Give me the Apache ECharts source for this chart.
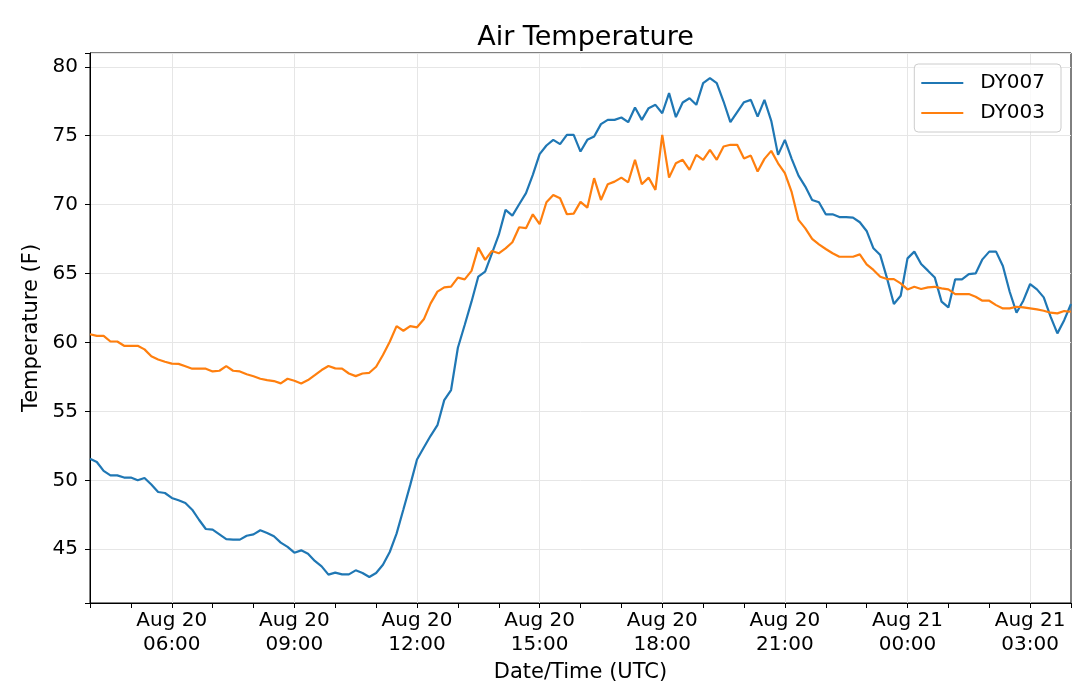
<!DOCTYPE html>
<html>
<head>
<meta charset="utf-8">
<title>Air Temperature</title>
<script src="https://cdn.jsdelivr.net/npm/echarts@6/dist/echarts.min.js"></script>
<style>
  html, body { margin: 0; padding: 0; background: #fff; }
  #chart { width: 1080px; height: 699px; }
</style>
</head>
<body>
<div id="chart"></div>
<script>
// 10-minute readings, Aug 20 04:00 UTC -> Aug 21 04:00 UTC
var startTime = Date.UTC(2018, 7, 20, 4, 0);
var stepMinutes = 10;

var dy007 = [
    51.57, 51.33, 50.68, 50.36, 50.36, 50.2, 50.2, 50.0, 50.17, 49.7, 49.15, 49.08, 48.72, 48.55, 48.35, 47.87, 47.14, 46.47, 46.42, 46.08, 45.74, 45.7, 45.7, 45.98, 46.08,
    46.38, 46.18, 45.94, 45.48, 45.17, 44.75, 44.92, 44.68, 44.15, 43.76, 43.16, 43.3, 43.18, 43.18, 43.47, 43.28, 42.99, 43.28, 43.88, 44.8, 46.13, 47.88, 49.65, 51.51,
    52.38, 53.23, 54.0, 55.82, 56.55, 59.62, 61.27, 62.96, 64.78, 65.14, 66.47, 67.8, 69.62, 69.2, 70.03, 70.83, 72.16, 73.66, 74.29, 74.7, 74.39, 75.06, 75.06, 73.85,
    74.7, 74.94, 75.84, 76.15, 76.15, 76.32, 75.98, 77.05, 76.15, 77.0, 77.24, 76.63, 78.09, 76.35, 77.41, 77.72, 77.24, 78.81, 79.18, 78.81, 77.48, 75.98, 76.71, 77.43,
    77.6, 76.39, 77.6, 76.08, 73.61, 74.7, 73.32, 72.1, 71.31, 70.34, 70.17, 69.3, 69.3, 69.1, 69.1, 69.06, 68.72, 68.09, 66.83, 66.34, 64.65, 62.79, 63.39, 66.1,
    66.59, 65.69, 65.21, 64.72, 62.96, 62.54, 64.58, 64.58, 64.96, 65.01, 66.03, 66.59, 66.59, 65.55, 63.68, 62.16, 63.03, 64.24, 63.85, 63.27, 61.87, 60.66, 61.62, 62.79
];

var dy003 = [
    60.6, 60.48, 60.48, 60.07, 60.07, 59.76, 59.76, 59.76, 59.5, 59.0, 58.77, 58.6, 58.47, 58.45, 58.28, 58.1, 58.1, 58.1, 57.9, 57.95, 58.28, 57.95, 57.9, 57.7, 57.55,
    57.37, 57.27, 57.2, 57.03, 57.37, 57.22, 57.03, 57.27, 57.63, 58.0, 58.29, 58.12, 58.1, 57.75, 57.56, 57.75, 57.8, 58.24, 59.09, 60.05, 61.19, 60.85, 61.19, 61.1,
    61.68, 62.84, 63.69, 64.0, 64.05, 64.7, 64.58, 65.19, 66.88, 65.99, 66.64, 66.47, 66.83, 67.27, 68.36, 68.29, 69.3, 68.58, 70.17, 70.7, 70.46, 69.3, 69.35, 70.2,
    69.78, 71.92, 70.34, 71.48, 71.67, 71.96, 71.62, 73.25, 71.48, 71.96, 71.07, 75.06, 71.96, 73.0, 73.25, 72.52, 73.61, 73.25, 73.97, 73.25, 74.22, 74.34, 74.34, 73.35,
    73.56, 72.4, 73.32, 73.9, 73.0, 72.28, 70.9, 68.89, 68.28, 67.51, 67.12, 66.78, 66.47, 66.22, 66.22, 66.22, 66.39, 65.67, 65.26, 64.77, 64.6, 64.6, 64.29, 63.85,
    64.04, 63.88, 64.0, 64.04, 63.92, 63.85, 63.51, 63.51, 63.51, 63.32, 63.03, 63.03, 62.71, 62.47, 62.47, 62.59, 62.54, 62.47, 62.4, 62.3, 62.16, 62.11, 62.28, 62.23
];

var yTicks = [45, 50, 55, 60, 65, 70, 75, 80];

var monthNames = ['Jan', 'Feb', 'Mar', 'Apr', 'May', 'Jun', 'Jul', 'Aug', 'Sep', 'Oct', 'Nov', 'Dec'];
function pad(n) { return (n < 10 ? '0' : '') + n; }

var times = [];
for (var i = 0; i < dy007.length; i++) {
    var d = new Date(startTime + i * stepMinutes * 60000);
    times.push(monthNames[d.getUTCMonth()] + ' ' + d.getUTCDate() + '\n' +
        pad(d.getUTCHours()) + ':' + pad(d.getUTCMinutes()));
}

// hourly ticks, labels + grid every 3 hours (06:00, 09:00, ...)
function isHour(idx) { return idx % 6 === 0; }
function isMajor(idx) { return idx % 18 === 12; }

var font = 'DejaVu Sans';
var myChart = echarts.init(document.getElementById('chart'));

var option = {
    animation: false,
    backgroundColor: '#ffffff',
    title: {
        text: 'Air Temperature',
        left: 580.5,
        top: 19,
        textAlign: 'center',
        textStyle: { fontFamily: font, fontSize: 27, fontWeight: 'normal', color: '#000' }
    },
    legend: {
        data: ['DY007', 'DY003'],
        orient: 'vertical',
        right: 19,
        top: 64,
        icon: 'rect',
        itemWidth: 42,
        itemHeight: 2,
        itemGap: 10,
        padding: [9, 16, 9, 7],
        borderColor: '#cccccc',
        borderWidth: 1,
        borderRadius: 4,
        backgroundColor: 'rgba(255,255,255,0.8)',
        textStyle: { fontFamily: font, fontSize: 20, color: '#000', padding: [0, 0, 0, 12] }
    },
    grid: {
        left: 90,
        right: 9,
        top: 53,
        bottom: 96,
        show: true,
        borderColor: '#000',
        borderWidth: 1,
        containLabel: false
    },
    xAxis: {
        type: 'category',
        data: times,
        boundaryGap: false,
        name: 'Date/Time (UTC)',
        nameLocation: 'middle',
        nameGap: 55,
        nameTextStyle: { fontFamily: font, fontSize: 21, color: '#000' },
        axisLine: { show: true, lineStyle: { color: '#000', width: 1 } },
        axisTick: { show: true, interval: isHour, length: 5, lineStyle: { color: '#000' } },
        axisLabel: {
            interval: isMajor,
            margin: 6,
            fontFamily: font,
            fontSize: 20,
            lineHeight: 24,
            color: '#000',
            align: 'center'
        },
        splitLine: { show: true, interval: isMajor, lineStyle: { color: '#e6e6e6', width: 1 } }
    },
    yAxis: {
        type: 'value',
        min: 41.1,
        max: 81,
        splitNumber: 8,
        name: 'Temperature (F)',
        nameLocation: 'middle',
        nameGap: 42,
        nameTextStyle: { fontFamily: font, fontSize: 21, color: '#000' },
        axisLine: { show: true, lineStyle: { color: '#000', width: 1 } },
        axisTick: { show: true, length: 5, lineStyle: { color: '#000' } },
        axisLabel: {
            margin: 12,
            fontFamily: font,
            fontSize: 20,
            color: '#000',
            formatter: function (v) { return yTicks.indexOf(v) >= 0 ? String(v) : ''; }
        },
        splitLine: { show: true, lineStyle: { color: '#e6e6e6', width: 1 } }
    },
    series: [
        {
            name: 'DY007',
            type: 'line',
            data: dy007,
            symbol: 'none',
            lineStyle: { color: '#1f77b4', width: 2.2 },
            itemStyle: { color: '#1f77b4' }
        },
        {
            name: 'DY003',
            type: 'line',
            data: dy003,
            symbol: 'none',
            lineStyle: { color: '#ff7f0e', width: 2.2 },
            itemStyle: { color: '#ff7f0e' }
        }
    ]
};
myChart.setOption(option);

window.addEventListener('resize', function () {
    myChart.resize();
});
</script>
</body>
</html>
